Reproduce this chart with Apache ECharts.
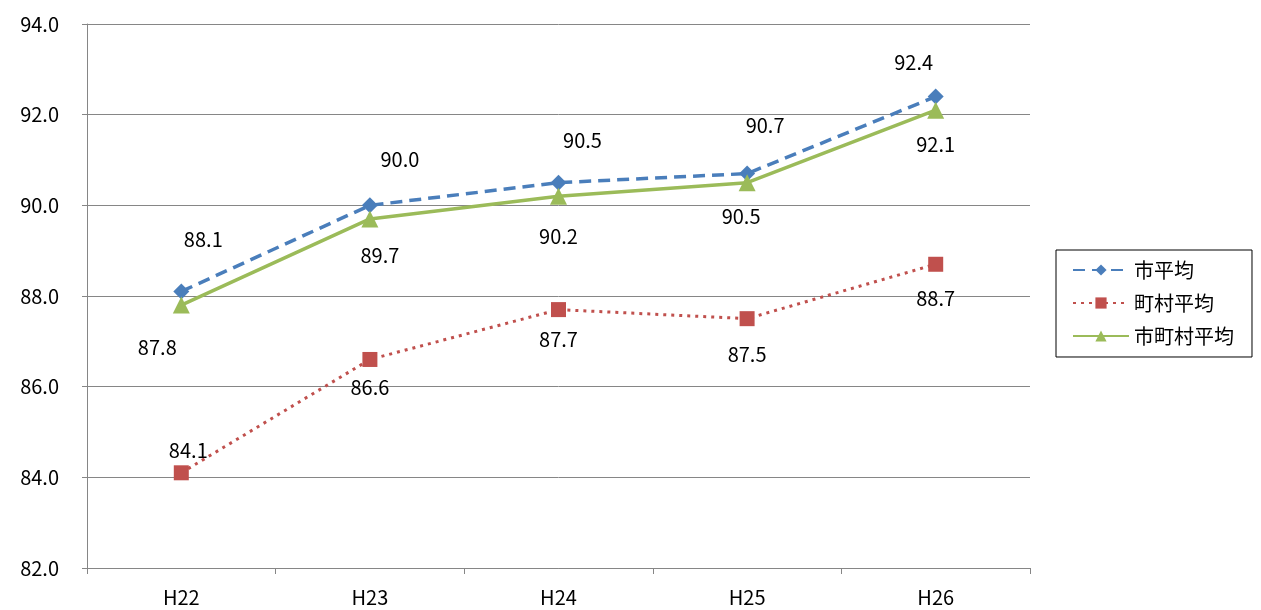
<!DOCTYPE html>
<html lang="ja">
<head>
<meta charset="UTF-8">
<title>平均</title>
<script src="https://cdn.jsdelivr.net/npm/echarts@6/dist/echarts.min.js"></script>
<style>
  html, body { margin: 0; padding: 0; background: #fff; }
  #main { width: 1261px; height: 610px; }
</style>
</head>
<body>
<div id="main"></div>
<script>
var categories = ['H22', 'H23', 'H24', 'H25', 'H26'];
var cityAvg = [88.1, 90.0, 90.5, 90.7, 92.4];
var townAvg = [84.1, 86.6, 87.7, 87.5, 88.7];
var allAvg = [87.8, 89.7, 90.2, 90.5, 92.1];

var font = '"Noto Sans CJK JP", "Noto Sans", sans-serif';
var lblStyle = { show: true, fontSize: 20, color: '#000', fontFamily: font,
    formatter: function (p) { return p.value.toFixed(1); } };

function withLabels(vals, offsets) {
    return vals.map(function (v, i) {
        return { value: v, label: Object.assign({}, lblStyle, { position: 'inside', offset: offsets[i] }) };
    });
}

var chart = echarts.init(document.getElementById('main'));
chart.setOption({
    animation: false,
    grid: { left: 87, right: 231, top: 24, bottom: 42 },
    legend: {
        orient: 'vertical', left: 1056, top: 250, width: 200,
        padding: [10, 18, 11, 16], itemGap: 13, itemWidth: 56, itemHeight: 14,
        borderColor: '#000', borderWidth: 1,
        textStyle: { fontSize: 20, color: '#000', fontFamily: font },
        data: ['市平均', '町村平均', '市町村平均']
    },
    xAxis: {
        type: 'category', data: categories, boundaryGap: true,
        axisLine: { lineStyle: { color: '#868686' } },
        axisTick: { show: true, length: 6, lineStyle: { color: '#868686' } },
        axisLabel: { fontSize: 20, color: '#000', fontFamily: font, margin: 19 }
    },
    yAxis: {
        type: 'value', min: 82, max: 94, interval: 2,
        axisLine: { show: true, lineStyle: { color: '#868686' } },
        axisTick: { show: true, length: 5, lineStyle: { color: '#868686' } },
        splitLine: { lineStyle: { color: '#868686' } },
        axisLabel: { fontSize: 20, color: '#000', fontFamily: font, margin: 28,
            formatter: function (v) { return v.toFixed(1); } }
    },
    series: [
        {
            name: '市平均', type: 'line', symbol: 'diamond', symbolSize: 16,
            lineStyle: { color: '#4a7ebb', width: 3.5, type: [12, 7] },
            itemStyle: { color: '#4a7ebb' },
            data: withLabels(cityAvg, [[22, -52], [30, -46], [24, -42], [18, -48], [-22, -34]]),
            z: 3
        },
        {
            name: '町村平均', type: 'line', symbol: 'rect', symbolSize: 15,
            lineStyle: { color: '#c0504d', width: 3, type: [3, 5] },
            itemStyle: { color: '#c0504d' },
            data: withLabels(townAvg, [[7, -22], [0, 28], [0, 30], [0, 36], [0, 34]]),
            z: 2
        },
        {
            name: '市町村平均', type: 'line', symbol: 'triangle', symbolSize: 17,
            lineStyle: { color: '#9bbb59', width: 3.5 },
            itemStyle: { color: '#9bbb59' },
            data: withLabels(allAvg, [[-24, 42], [10, 36], [0, 40], [-6, 34], [0, 34]]),
            z: 4
        }
    ]
});
</script>
</body>
</html>
